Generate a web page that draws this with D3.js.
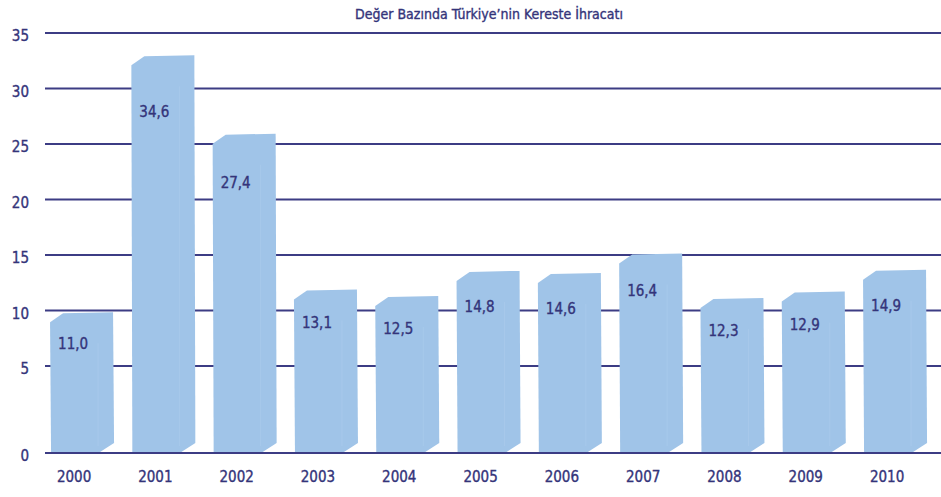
<!DOCTYPE html>
<html>
<head>
<meta charset="utf-8">
<script src="https://cdn.jsdelivr.net/npm/d3@7"></script>
<style>
  html, body { margin: 0; padding: 0; background: #ffffff; }
  svg { display: block; }
  text { font-family: "DejaVu Sans Condensed", "DejaVu Sans", sans-serif; stroke: #34347a; stroke-width: 0.35px; }
</style>
</head>
<body>
<svg id="chart" width="941" height="497"></svg>
<script>
const title = "Değer Bazında Türkiye’nin Kereste İhracatı";
const years = ["2000","2001","2002","2003","2004","2005","2006","2007","2008","2009","2010"];
const values = [11.0, 34.6, 27.4, 13.1, 12.5, 14.8, 14.6, 16.4, 12.3, 12.9, 14.9];
const yTicks = [0, 5, 10, 15, 20, 25, 30, 35];

const W = 941, H = 497;
const svg = d3.select("#chart");
const ink = "#34347a";
const barFill = "#a0c4e8";

// axis scale (the printed axis is non-uniform below 5)
const yGrid = d3.scaleLinear().domain([0, 5, 35]).range([453, 366, 33]);
// bar-top and label scales as drawn in the source
const yBar = d3.scaleLinear().domain([0, 35]).range([433, 52]);
const yLabel = d3.scaleLinear().domain([0, 35]).range([452, 108]);
const base = 452;

const x = d3.scaleBand().domain(years).range([33.4, 927.7]).padding(0);

// title
svg.append("text")
  .attr("x", 489).attr("y", 19)
  .attr("text-anchor", "middle")
  .attr("font-size", 14)
  .attr("fill", ink)
  .text(title);

// gridlines
svg.append("g").selectAll("line").data(yTicks).join("line")
  .attr("x1", 45).attr("x2", W)
  .attr("y1", d => yGrid(d)).attr("y2", d => yGrid(d))
  .attr("stroke", "#3c3c84").attr("stroke-width", 2);

// y tick labels
svg.append("g").selectAll("text").data(yTicks).join("text")
  .attr("x", 29).attr("y", d => yGrid(d) + 3)
  .attr("dy", "0.35em")
  .attr("text-anchor", "end")
  .attr("font-size", 15)
  .attr("fill", ink)
  .text(d => d);

// bars
const bars = svg.append("g").selectAll("g").data(years.map((y, i) => ({ y, v: values[i] }))).join("g");

bars.append("path")
  .attr("fill", barFill)
  .attr("d", d => {
    const c = x(d.y) + x.bandwidth() / 2;
    const x0 = c - 24, xr = x0 + 63, t = yBar(d.v);
    return d3.line()([
      [x0, t + 9], [x0 + 13, t], [xr, t - 1],
      [xr + 1, base - 9], [xr - 13, base], [x0 + 1, base]
    ]) + "Z";
  });

bars.append("line")
  .attr("x1", d => x(d.y) + x.bandwidth() / 2 + 24)
  .attr("x2", d => x(d.y) + x.bandwidth() / 2 + 24)
  .attr("y1", d => yBar(d.v) + 30)
  .attr("y2", base - 6)
  .attr("stroke", "#b3d1f0").attr("stroke-width", 1).attr("opacity", 0.4);

bars.append("text")
  .attr("x", d => x(d.y) + x.bandwidth() / 2 - 16)
  .attr("y", d => yLabel(d.v))
  .attr("dy", "0.35em")
  .attr("font-size", 15)
  .attr("fill", ink)
  .text(d => d3.format(".1f")(d.v).replace(".", ","));

// year labels
svg.append("g").selectAll("text").data(years).join("text")
  .attr("x", d => x(d) + x.bandwidth() / 2)
  .attr("y", 477)
  .attr("dy", "0.35em")
  .attr("text-anchor", "middle")
  .attr("font-size", 15)
  .attr("fill", ink)
  .text(d => d);
</script>
</body>
</html>
